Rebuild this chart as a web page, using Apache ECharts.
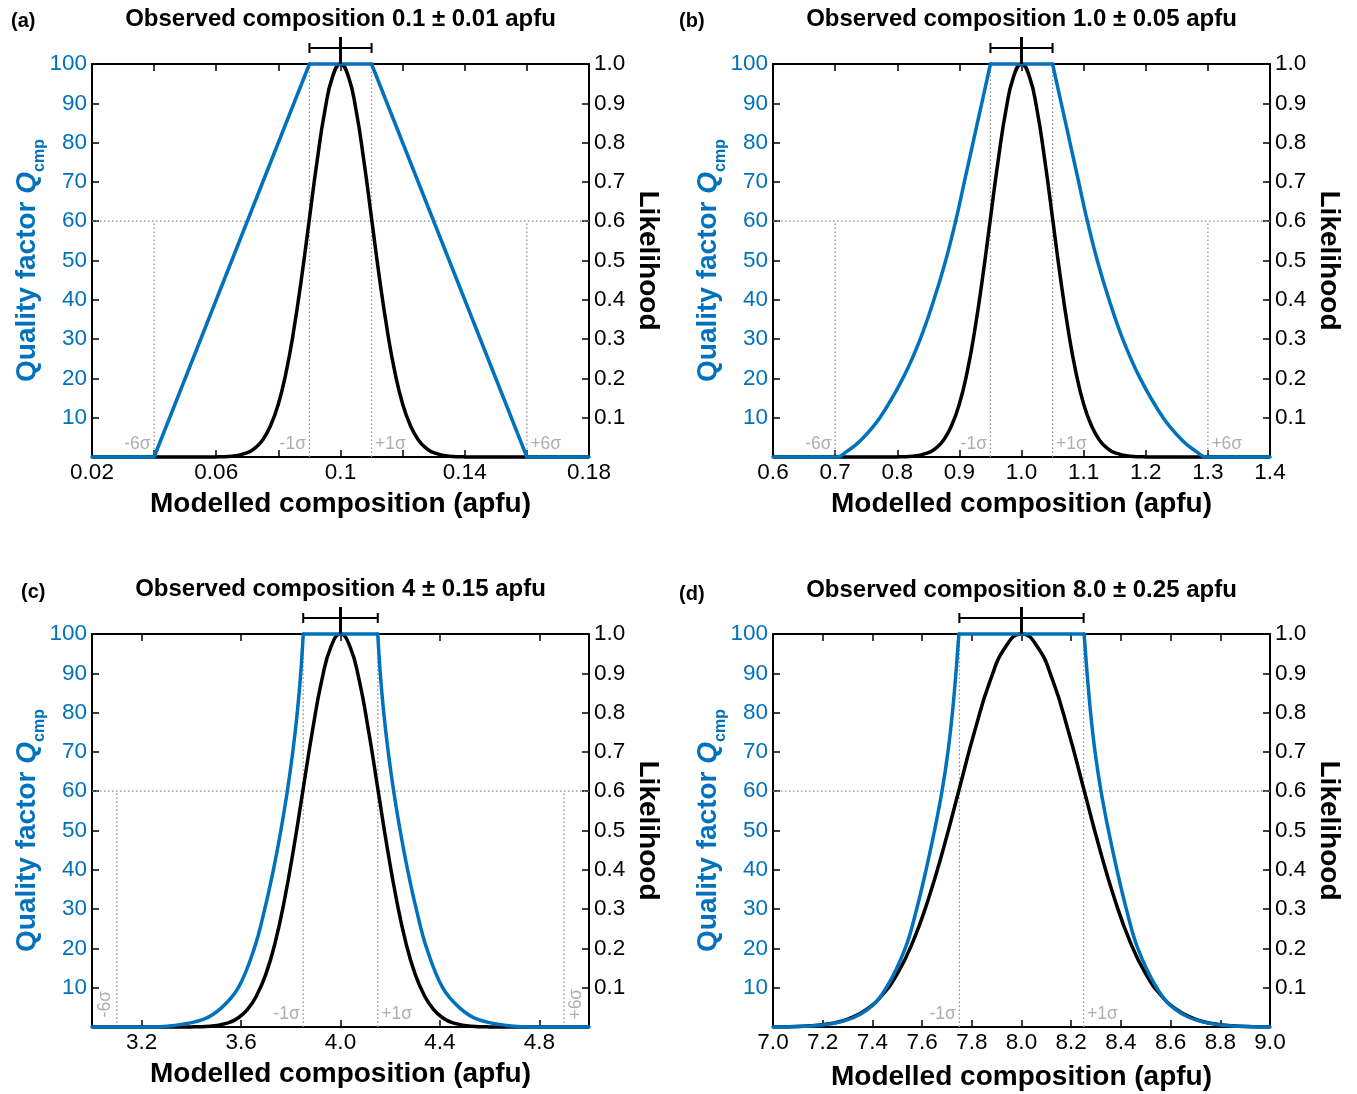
<!DOCTYPE html>
<html><head><meta charset="utf-8">
<script src="https://cdn.jsdelivr.net/npm/echarts@6/dist/echarts.min.js"></script>
<style>html,body{margin:0;padding:0;background:#fff}#c{width:1357px;height:1094px}</style>
</head><body><div id="c"></div>
<script>
// ---------------- DATA ----------------
const titles = ['Observed composition 0.1 \u00b1 0.01 apfu','Observed composition 1.0 \u00b1 0.05 apfu','Observed composition 4 \u00b1 0.15 apfu','Observed composition 8.0 \u00b1 0.25 apfu'];
const panelLabels = ['(a)','(b)','(c)','(d)'];
const obsMean = [0.1, 1.0, 4.0, 8.0];
const obsSigma = [0.01, 0.05, 0.15, 0.25];
const xMin = [0.02, 0.6, 3.0, 7.0];
const xMax = [0.18, 1.4, 5.0, 9.0];

const xTicksA = [0.02,0.04,0.06,0.08,0.1,0.12,0.14,0.16,0.18];
const xLabelsA = [0.02,0.06,0.1,0.14,0.18];
const xTicksB = [0.6,0.7,0.8,0.9,1.0,1.1,1.2,1.3,1.4];
const xLabelsB = [0.6,0.7,0.8,0.9,1.0,1.1,1.2,1.3,1.4];
const xTicksC = [3.2,3.6,4.0,4.4,4.8];
const xLabelsC = [3.2,3.6,4.0,4.4,4.8];
const xTicksD = [7.0,7.2,7.4,7.6,7.8,8.0,8.2,8.4,8.6,8.8,9.0];
const xLabelsD = [7.0,7.2,7.4,7.6,7.8,8.0,8.2,8.4,8.6,8.8,9.0];

// Likelihood (black)
const likX_A = [0.02,0.05,0.06,0.065,0.07,0.0725,0.075,0.0775,0.08,0.0825,0.085,0.0875,0.09,0.0925,0.095,0.0975,0.1,0.1025,0.105,0.1075,0.11,0.1125,0.115,0.1175,0.12,0.1225,0.125,0.1275,0.13,0.135,0.14,0.15,0.18];
const likY_A = [0,0,0.0003,0.002,0.011,0.023,0.044,0.080,0.135,0.216,0.325,0.458,0.607,0.755,0.883,0.969,1.0,0.969,0.883,0.755,0.607,0.458,0.325,0.216,0.135,0.080,0.044,0.023,0.011,0.002,0.0003,0,0];
const likX_B = [0.6,0.75,0.8,0.825,0.85,0.8625,0.875,0.8875,0.9,0.9125,0.925,0.9375,0.95,0.9625,0.975,0.9875,1.0,1.0125,1.025,1.0375,1.05,1.0625,1.075,1.0875,1.1,1.1125,1.125,1.1375,1.15,1.175,1.2,1.25,1.4];
const likY_B = [0,0,0.0003,0.002,0.011,0.023,0.044,0.080,0.135,0.216,0.325,0.458,0.607,0.755,0.883,0.969,1.0,0.969,0.883,0.755,0.607,0.458,0.325,0.216,0.135,0.080,0.044,0.023,0.011,0.002,0.0003,0,0];
const likX_C = [3.0,3.25,3.4,3.475,3.55,3.5875,3.625,3.6625,3.7,3.7375,3.775,3.8125,3.85,3.8875,3.925,3.9625,4.0,4.0375,4.075,4.1125,4.15,4.1875,4.225,4.2625,4.3,4.3375,4.375,4.4125,4.45,4.525,4.6,4.75,5.0];
const likY_C = [0,0,0.0003,0.002,0.011,0.023,0.044,0.080,0.135,0.216,0.325,0.458,0.607,0.755,0.883,0.969,1.0,0.969,0.883,0.755,0.607,0.458,0.325,0.216,0.135,0.080,0.044,0.023,0.011,0.002,0.0003,0,0];
const likX_D = [7.0,7.125,7.25,7.3125,7.375,7.4375,7.5,7.5625,7.625,7.6875,7.75,7.8125,7.875,7.9375,8.0,8.0625,8.125,8.1875,8.25,8.3125,8.375,8.4375,8.5,8.5625,8.625,8.6875,8.75,8.875,9.0];
const likY_D = [0.0003,0.002,0.011,0.023,0.044,0.080,0.135,0.216,0.325,0.458,0.607,0.755,0.883,0.969,1.0,0.969,0.883,0.755,0.607,0.458,0.325,0.216,0.135,0.080,0.044,0.023,0.011,0.002,0.0003];

// Quality factor (blue)
const qX_A = [0.02,0.04,0.09,0.11,0.16,0.18];
const qY_A = [0,0,100,100,0,0];
const qX_B = [0.6,0.703,0.718,0.741,0.772,0.809,0.837,0.859,0.878,0.894,0.908,0.922,0.936,0.95,1.05,1.064,1.078,1.092,1.106,1.122,1.141,1.163,1.191,1.228,1.259,1.282,1.297,1.4];
const qY_B = [0,0,1.3,4.2,10,20,30,40,50,60,70,80,90,100,100,90,80,70,60,50,40,30,20,10,4.2,1.3,0,0];
const qX_C = [3.0,3.2,3.33,3.45,3.523,3.589,3.653,3.695,3.73,3.76,3.786,3.808,3.826,3.84,3.85,4.15,4.16,4.174,4.192,4.214,4.24,4.27,4.305,4.347,4.411,4.477,4.55,4.67,4.8,5.0];
const qY_C = [0,0,0.4,2,5,10,20,30,40,50,60,70,80,90,100,100,90,80,70,60,50,40,30,20,10,5,2,0.4,0,0];
const qX_D = [7.0,7.13,7.27,7.38,7.456,7.532,7.578,7.616,7.65,7.68,7.704,7.722,7.736,7.748,8.252,8.264,8.278,8.296,8.32,8.35,8.384,8.422,8.468,8.544,8.62,8.73,8.87,9.0];
const qY_D = [0,0.2,1.3,4.4,10,20,30,40,50,60,70,80,90,100,100,90,80,70,60,50,40,30,20,10,4.4,1.3,0.2,0];

// guide lines (x positions) and threshold
const threshold = 60;
const oneSigmaX_A = [0.09, 0.11];  const sixSigmaX_A = [0.04, 0.16];
const oneSigmaX_B = [0.95, 1.05];  const sixSigmaX_B = [0.7, 1.3];
const oneSigmaX_C = [3.85, 4.15];  const sixSigmaX_C = [3.1, 4.9];
const oneSigmaX_D = [7.75, 8.25];  const sixSigmaX_D = [];
const oneSigmaText = ['-1\u03c3', '+1\u03c3'];
const sixSigmaText = ['-6\u03c3', '+6\u03c3'];

// ---------------- LAYOUT / STYLE ----------------
const FONT = '"Liberation Sans", Arial, Helvetica, sans-serif';
const BLUE = '#0072BD';
const GRAY = '#8e8e8e';
const gridPos = [[92,64],[773,64],[92,634],[773,634]];
const GW = 497, GH = 393;
const labelPos = [[11,11],[679,11],[21,582],[679,584]];
const titleTop = [7, 7, 577, 578];
const xNameGap = [33,33,33,36];
const sixRotated = [false,false,true,false];
const qSmooth = [0, 0.4, 0.4, 0.4];

const xTicks = [xTicksA,xTicksB,xTicksC,xTicksD];
const xLabels = [xLabelsA,xLabelsB,xLabelsC,xLabelsD];
const likX = [likX_A,likX_B,likX_C,likX_D], likY = [likY_A,likY_B,likY_C,likY_D];
const qX = [qX_A,qX_B,qX_C,qX_D], qY = [qY_A,qY_B,qY_C,qY_D];
const oneSig = [oneSigmaX_A,oneSigmaX_B,oneSigmaX_C,oneSigmaX_D];
const sixSig = [sixSigmaX_A,sixSigmaX_B,sixSigmaX_C,sixSigmaX_D];
const xFmt = [v => String(+v.toFixed(2)), v => v.toFixed(1), v => v.toFixed(1), v => v.toFixed(1)];

const zip = (a, b) => a.map((v, k) => [v, b[k]]);

const grids = [], xAxes = [], yAxes = [], titleArr = [], series = [];

function axLine() { return {show:true, onZero:false, lineStyle:{color:'#000', width:2}}; }
function axTick(custom) {
  const t = {show:true, inside:true, length:7, lineStyle:{color:'#000', width:1.5}};
  if (custom) t.customValues = custom;
  return t;
}

for (let i = 0; i < 4; i++) {
  const [gl, gt] = gridPos[i];
  grids.push({left:gl, top:gt, width:GW, height:GH, containLabel:false, outerBoundsMode:'none'});

  xAxes.push({
    type:'value', gridIndex:i, position:'bottom', min:xMin[i], max:xMax[i],
    axisLine:axLine(), axisTick:axTick(xTicks[i]), splitLine:{show:false},
    axisLabel:{show:true, customValues:xLabels[i], formatter:xFmt[i], color:'#000', fontSize:22.5, fontFamily:FONT, margin:4},
    name:'Modelled composition (apfu)', nameLocation:'middle', nameGap:xNameGap[i], nameMoveOverlap:false,
    nameTextStyle:{fontSize:28, fontWeight:'bold', color:'#000', fontFamily:FONT}
  });
  xAxes.push({
    type:'value', gridIndex:i, position:'top', min:xMin[i], max:xMax[i],
    axisLine:axLine(), axisTick:axTick(xTicks[i]), splitLine:{show:false},
    axisLabel:{show:false}
  });
  yAxes.push({
    type:'value', gridIndex:i, position:'left', min:0, max:100, interval:10,
    axisLine:axLine(), axisTick:axTick(), splitLine:{show:false},
    axisLabel:{color:BLUE, fontSize:22.5, fontFamily:FONT, margin:5, formatter:v => v === 0 ? '' : String(v)},
    name:'{n|Quality factor }{q|Q}{s|cmp}', nameLocation:'middle', nameGap:44, nameRotate:90, nameMoveOverlap:false,
    nameTextStyle:{color:BLUE, fontFamily:FONT, rich:{
      n:{fontSize:28, fontWeight:'bold', color:BLUE, fontFamily:FONT, lineHeight:42},
      q:{fontSize:28, fontWeight:'bold', fontStyle:'italic', color:BLUE, fontFamily:FONT, lineHeight:42},
      s:{fontSize:16, fontWeight:'bold', color:BLUE, fontFamily:FONT, lineHeight:16, verticalAlign:'bottom'}
    }}
  });
  yAxes.push({
    type:'value', gridIndex:i, position:'right', min:0, max:1, interval:0.1,
    axisLine:axLine(), axisTick:axTick(), splitLine:{show:false},
    axisLabel:{color:'#000', fontSize:22.5, fontFamily:FONT, margin:5, formatter:v => v === 0 ? '' : v.toFixed(1)},
    name:'Likelihood', nameLocation:'middle', nameGap:45, nameRotate:-90, nameMoveOverlap:false,
    nameTextStyle:{fontSize:28, fontWeight:'bold', color:'#000', fontFamily:FONT}
  });

  titleArr.push({text:titles[i], left:gl + GW/2, top:titleTop[i], textAlign:'center', padding:0,
    textStyle:{fontSize:24, fontWeight:'bold', color:'#000', fontFamily:FONT}});
  titleArr.push({text:panelLabels[i], left:labelPos[i][0], top:labelPos[i][1], padding:0,
    textStyle:{fontSize:20, fontWeight:'bold', color:'#000', fontFamily:FONT}});

  const xa = 2*i, yq = 2*i, yl = 2*i + 1;
  const dotted = (data) => ({type:'line', xAxisIndex:xa, yAxisIndex:yq, data, symbol:'none', silent:true, z:1,
    lineStyle:{color:GRAY, width:1.3, type:[1.5,2.5]}, clip:false, animation:false});

  series.push(dotted([[xMin[i], threshold], [xMax[i], threshold]]));
  oneSig[i].forEach(g => series.push(dotted([[g, 0], [g, 100]])));
  sixSig[i].forEach(g => series.push(dotted([[g, 0], [g, threshold]])));

  // sigma labels
  const addLabel = (x, text, rot) => {
    const left = text[0] === '-';
    series.push({type:'scatter', xAxisIndex:xa, yAxisIndex:yq, symbol:'circle', symbolSize:1, silent:true, z:4,
      itemStyle:{color:'rgba(0,0,0,0)'}, animation:false, clip:false,
      data:[[x, rot ? 5.8 : 3.3]],
      label: rot ? {show:true, formatter:text, color:'#9a9a9a', fontSize:17.5, fontFamily:FONT, position:'inside',
                    rotate:90, align:'center', verticalAlign:'middle', offset:[0, left ? -12 : 12]}
                 : {show:true, formatter:text, color:'#9a9a9a', fontSize:17.5, fontFamily:FONT,
                    position: left ? 'left' : 'right', distance:3}
    });
  };
  oneSig[i].forEach((g, k) => addLabel(g, oneSigmaText[k], false));
  sixSig[i].forEach((g, k) => addLabel(g, sixSigmaText[k], sixRotated[i]));

  // likelihood curve
  series.push({type:'line', xAxisIndex:xa, yAxisIndex:yl, data:zip(likX[i], likY[i]), smooth:0.5,
    symbol:'none', lineStyle:{color:'#000', width:3.5}, z:3, clip:false, animation:false});

  // quality curve (split at flat top)
  const pts = zip(qX[i], qY[i]);
  const f = qY[i].indexOf(100), l = qY[i].lastIndexOf(100);
  const parts = [[pts.slice(0, f+1), qSmooth[i]], [pts.slice(f, l+1), 0], [pts.slice(l), qSmooth[i]]];
  parts.forEach(([d, sm]) => series.push({type:'line', xAxisIndex:xa, yAxisIndex:yq, data:d, smooth:sm,
    symbol:'none', lineStyle:{color:BLUE, width:3.5, cap:'round', join:'round'}, z:5, clip:false, animation:false}));

  // observed composition error bar
  series.push({type:'custom', xAxisIndex:xa, yAxisIndex:yq, clip:false, silent:true, z:6, animation:false,
    data:[[obsMean[i], obsSigma[i]]],
    renderItem:(params, api) => {
      const m = api.value(0), s = api.value(1);
      const pL = api.coord([m - s, 100]), pR = api.coord([m + s, 100]), pC = api.coord([m, 100]);
      const yb = pC[1] - 16;
      const st = {stroke:'#000', lineWidth:2};
      return {type:'group', children:[
        {type:'line', shape:{x1:pL[0], y1:yb, x2:pR[0], y2:yb}, style:st},
        {type:'line', shape:{x1:pL[0], y1:yb-5, x2:pL[0], y2:yb+5}, style:st},
        {type:'line', shape:{x1:pR[0], y1:yb-5, x2:pR[0], y2:yb+5}, style:st},
        {type:'line', shape:{x1:pC[0], y1:yb-11, x2:pC[0], y2:pC[1]}, style:{stroke:'#000', lineWidth:3}}
      ]};
    }
  });
}

const chart = echarts.init(document.getElementById('c'), null, {renderer:'canvas'});
chart.setOption({
  backgroundColor:'#fff',
  animation:false,
  title:titleArr,
  grid:grids,
  xAxis:xAxes,
  yAxis:yAxes,
  series:series
});
</script>
</body></html>
